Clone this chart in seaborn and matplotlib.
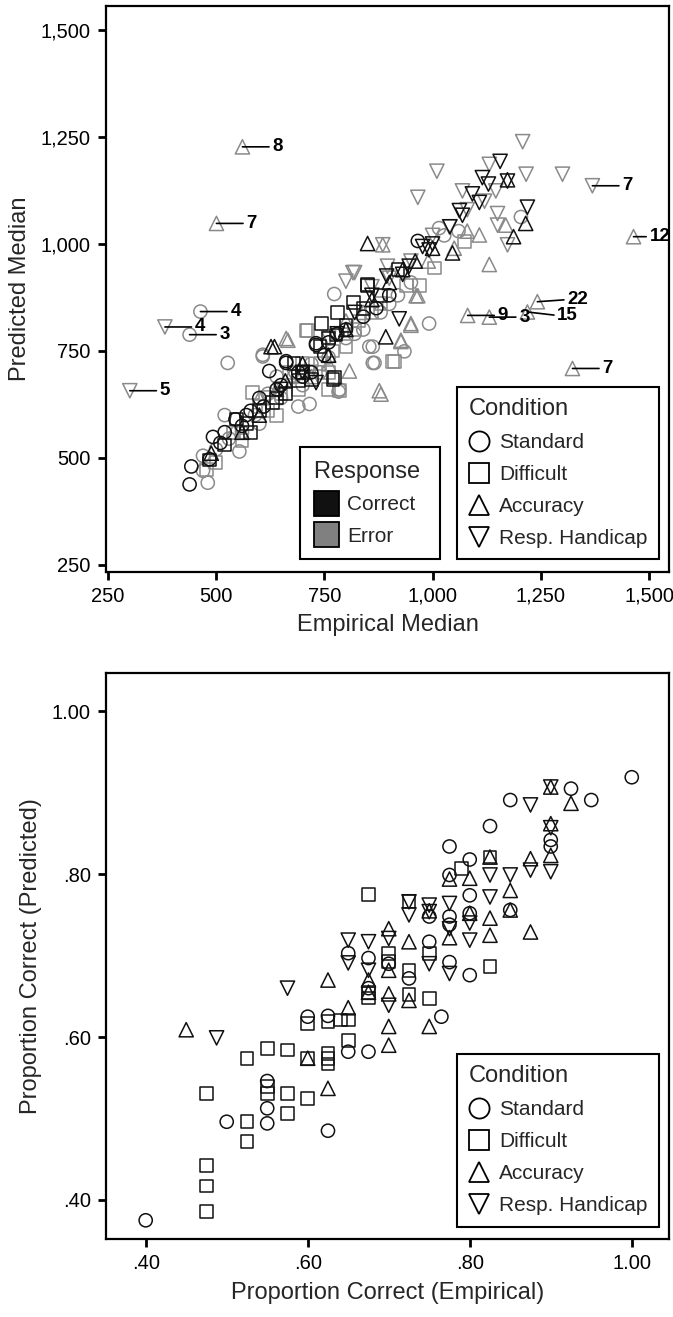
import matplotlib
matplotlib.use("Agg")
import matplotlib.pyplot as plt
from matplotlib.lines import Line2D
import seaborn as sns

sns.set_style("ticks")
plt.rcParams['font.family'] = ['Liberation Sans', 'DejaVu Sans']

# ---------------- Top panel data: median RT (empirical vs predicted) ----------------
std_cor_x = [439, 443, 485, 493, 520, 545, 570, 600, 623, 640, 662, 662, 690, 700, 731, 731, 750, 780, 800, 840, 870, 900, 966, 720, 610, 560, 510, 580, 650, 760]
std_cor_y = [438, 480, 497, 549, 560, 590, 600, 640, 703, 660, 722, 726, 700, 690, 764, 768, 740, 790, 800, 830, 850, 880, 1007, 700, 620, 575, 535, 610, 670, 770]
std_err_x = [464, 439, 470, 481, 527, 554, 608, 608, 716, 773, 783, 785, 854, 862, 862, 866, 935, 992, 1015, 1027, 1204, 500, 530, 560, 590, 620, 650, 680, 700, 720, 740, 760, 800, 820, 840, 880, 900, 920, 950, 1060, 640, 600, 690, 470, 520]
std_err_y = [842, 788, 470, 442, 722, 515, 737, 741, 626, 883, 655, 660, 760, 760, 722, 722, 749, 814, 1037, 1020, 1063, 520, 545, 560, 600, 650, 640, 690, 670, 720, 700, 735, 780, 790, 800, 840, 860, 880, 910, 1030, 690, 580, 620, 505, 600]
dif_cor_x = [485, 520, 547, 570, 600, 630, 660, 690, 720, 743, 770, 773, 777, 781, 817, 850, 850, 700, 740, 760, 800, 640, 580, 680, 840, 880, 920]
dif_cor_y = [495, 530, 591, 580, 610, 630, 650, 680, 683, 814, 683, 687, 787, 840, 864, 902, 905, 700, 760, 780, 810, 640, 560, 720, 850, 880, 940]
dif_err_x = [478, 500, 540, 585, 600, 620, 650, 670, 700, 708, 712, 760, 785, 800, 830, 860, 880, 908, 912, 939, 969, 1004, 1073, 640, 690, 740, 770, 560, 820, 760]
dif_err_y = [473, 490, 560, 653, 620, 610, 650, 700, 720, 798, 798, 700, 657, 760, 820, 840, 860, 726, 726, 902, 902, 944, 1005, 600, 660, 720, 750, 540, 800, 660]
acc_cor_x = [489, 627, 635, 850, 892, 931, 1046, 1187, 1215, 700, 760, 800, 560, 600, 660, 860, 900, 960, 1000, 1173]
acc_cor_y = [511, 760, 760, 1001, 783, 940, 979, 1017, 1048, 720, 740, 800, 560, 600, 680, 870, 910, 960, 990, 1150]
acc_err_x = [561, 501, 1323, 1464, 1242, 1219, 1081, 1131, 662, 666, 808, 877, 881, 927, 927, 950, 950, 962, 966, 1108, 1131, 1169, 885, 540, 600, 640, 700, 720, 760, 800, 840, 990, 1050, 1080]
acc_err_y = [1227, 1048, 709, 1017, 865, 841, 833, 829, 779, 775, 703, 657, 649, 772, 775, 810, 814, 879, 879, 1021, 952, 1044, 998, 560, 640, 660, 700, 690, 720, 820, 840, 960, 990, 1030]
rh_cor_x = [731, 894, 923, 931, 946, 977, 992, 1062, 1069, 1092, 1108, 1115, 1129, 1156, 1173, 1219, 820, 860, 780, 700, 650, 1000, 1040]
rh_cor_y = [676, 925, 825, 929, 948, 994, 986, 1078, 1067, 1117, 1097, 1155, 1140, 1193, 1147, 1086, 840, 880, 790, 700, 660, 1000, 1040]
rh_err_x = [382, 301, 1369, 1208, 1010, 1131, 1216, 1300, 1146, 966, 1069, 1150, 1150, 1173, 1039, 820, 816, 800, 896, 885, 1000, 950, 760, 720, 680, 620, 860, 900, 1080, 1120]
rh_err_y = [806, 657, 1136, 1239, 1170, 1186, 1163, 1163, 1124, 1109, 1124, 1071, 1044, 998, 1040, 933, 933, 913, 948, 998, 1020, 960, 780, 700, 690, 640, 900, 920, 1080, 1100]

# labelled outliers (empirical, predicted, label)
out_x = [561, 501, 464, 382, 439, 301, 1369, 1464, 1242, 1219, 1081, 1131, 1323]
out_y = [1227, 1048, 842, 806, 788, 657, 1136, 1017, 865, 841, 833, 829, 709]
out_lab = ["8", "7", "4", "4", "3", "5", "7", "12", "22", "15", "9", "3", "7"]

# ---------------- Bottom panel data: proportion correct ----------------
pc_std_x = [0.40, 0.50, 0.55, 0.55, 0.55, 0.60, 0.625, 0.625, 0.65, 0.675, 0.65, 0.675, 0.675, 0.70, 0.725, 0.75, 0.75, 0.765, 0.775, 0.775, 0.775, 0.775, 0.775, 0.80, 0.80, 0.80, 0.80, 0.825, 0.85, 0.85, 0.90, 0.90, 0.925, 0.95, 1.00]
pc_std_y = [0.375, 0.496, 0.546, 0.5125, 0.494, 0.625, 0.626, 0.485, 0.582, 0.582, 0.703, 0.697, 0.66, 0.69, 0.672, 0.748, 0.717, 0.625, 0.834, 0.799, 0.748, 0.738, 0.692, 0.818, 0.774, 0.752, 0.676, 0.859, 0.891, 0.756, 0.842, 0.834, 0.905, 0.891, 0.919]
pc_dif_x = [0.475, 0.475, 0.475, 0.475, 0.525, 0.525, 0.525, 0.55, 0.55, 0.55, 0.575, 0.575, 0.575, 0.60, 0.60, 0.60, 0.625, 0.625, 0.625, 0.625, 0.64, 0.65, 0.65, 0.675, 0.675, 0.675, 0.70, 0.70, 0.725, 0.725, 0.725, 0.75, 0.75, 0.79, 0.825, 0.825]
pc_dif_y = [0.531, 0.442, 0.417, 0.386, 0.574, 0.496, 0.472, 0.586, 0.539, 0.531, 0.584, 0.531, 0.506, 0.617, 0.574, 0.525, 0.619, 0.58, 0.574, 0.567, 0.621, 0.621, 0.596, 0.775, 0.655, 0.648, 0.703, 0.693, 0.766, 0.682, 0.652, 0.703, 0.647, 0.807, 0.821, 0.687]
pc_acc_x = [0.45, 0.60, 0.625, 0.625, 0.65, 0.675, 0.675, 0.70, 0.70, 0.70, 0.70, 0.70, 0.725, 0.725, 0.75, 0.75, 0.775, 0.775, 0.80, 0.80, 0.825, 0.825, 0.825, 0.85, 0.85, 0.875, 0.875, 0.90, 0.90, 0.90, 0.925]
pc_acc_y = [0.609, 0.574, 0.537, 0.67, 0.636, 0.67, 0.655, 0.733, 0.682, 0.653, 0.613, 0.59, 0.717, 0.645, 0.613, 0.755, 0.794, 0.722, 0.795, 0.752, 0.821, 0.746, 0.725, 0.78, 0.756, 0.819, 0.729, 0.907, 0.862, 0.823, 0.887]
pc_rh_x = [0.4875, 0.575, 0.65, 0.65, 0.675, 0.675, 0.70, 0.70, 0.725, 0.725, 0.75, 0.75, 0.75, 0.775, 0.775, 0.775, 0.80, 0.80, 0.825, 0.825, 0.85, 0.875, 0.875, 0.90, 0.90, 0.90]
pc_rh_y = [0.599, 0.66, 0.719, 0.691, 0.717, 0.682, 0.721, 0.639, 0.766, 0.75, 0.762, 0.754, 0.69, 0.764, 0.733, 0.678, 0.74, 0.719, 0.799, 0.772, 0.799, 0.885, 0.805, 0.907, 0.857, 0.803]

cond_names = ["Standard", "Difficult", "Accuracy", "Resp. Handicap"]
resp_names = ["Correct", "Error"]
rt_ticks = [250, 500, 750, 1000, 1250, 1500]
rt_ticklabels = ["250", "500", "750", "1,000", "1,250", "1,500"]
pc_ticks = [0.40, 0.60, 0.80, 1.00]
pc_ticklabels = [".40", ".60", ".80", "1.00"]

# ---------------- styling ----------------
MARK = {"Standard": "o", "Difficult": "s", "Accuracy": "^", "Resp. Handicap": "v"}
SIZE = {"Standard": 90, "Difficult": 85, "Accuracy": 105, "Resp. Handicap": 105}
BLACK = "#111111"
GRAY = "#8a8a8a"
LW = 1.1

fig = plt.figure(figsize=(6.73, 13.17), dpi=100)
ax1 = fig.add_axes([0.1575, 0.5659, 0.8366, 0.4295])
ax2 = fig.add_axes([0.1575, 0.0592, 0.8366, 0.4298])


def pts(ax, xs, ys, cond, color):
    sns.scatterplot(x=xs, y=ys, ax=ax, marker=MARK[cond], s=SIZE[cond],
                    facecolors="none", edgecolor=color, linewidth=LW,
                    legend=False, zorder=3)


# top panel: error (gray) first, correct (black) on top
pts(ax1, std_err_x, std_err_y, "Standard", GRAY)
pts(ax1, dif_err_x, dif_err_y, "Difficult", GRAY)
pts(ax1, acc_err_x, acc_err_y, "Accuracy", GRAY)
pts(ax1, rh_err_x, rh_err_y, "Resp. Handicap", GRAY)
pts(ax1, std_cor_x, std_cor_y, "Standard", BLACK)
pts(ax1, dif_cor_x, dif_cor_y, "Difficult", BLACK)
pts(ax1, acc_cor_x, acc_cor_y, "Accuracy", BLACK)
pts(ax1, rh_cor_x, rh_cor_y, "Resp. Handicap", BLACK)

for x, y, lab in zip(out_x, out_y, out_lab):
    off = 11.5 if lab == "12" else 21.5
    dy = -2.5 if lab == "15" else (1.5 if lab == "22" else 0)
    ax1.annotate(lab, xy=(x, y), xytext=(off, dy), textcoords="offset points",
                 ha="left", va="center", fontsize=13.5, fontweight="bold",
                 color="black", zorder=5,
                 arrowprops=dict(arrowstyle="-", color="black", lw=1.2,
                                 shrinkA=0, shrinkB=0, relpos=(0, 0.5)))

# bottom panel
pts(ax2, pc_std_x, pc_std_y, "Standard", BLACK)
pts(ax2, pc_dif_x, pc_dif_y, "Difficult", BLACK)
pts(ax2, pc_acc_x, pc_acc_y, "Accuracy", BLACK)
pts(ax2, pc_rh_x, pc_rh_y, "Resp. Handicap", BLACK)

# axes formatting
ax1.set_xlim(246, 1546)
ax1.set_ylim(234, 1556)
ax1.set_xticks(rt_ticks)
ax1.set_xticklabels(rt_ticklabels)
ax1.set_yticks(rt_ticks)
ax1.set_yticklabels(rt_ticklabels)
ax1.set_xlabel("Empirical Median", fontsize=17, labelpad=6)
ax1.set_ylabel("Predicted Median", fontsize=17, labelpad=7)

ax2.set_xlim(0.351, 1.046)
ax2.set_ylim(0.352, 1.047)
ax2.set_xticks(pc_ticks)
ax2.set_xticklabels(pc_ticklabels)
ax2.set_yticks(pc_ticks)
ax2.set_yticklabels(pc_ticklabels)
ax2.set_xlabel("Proportion Correct (Empirical)", fontsize=17, labelpad=6)
ax2.set_ylabel("Proportion Correct (Predicted)", fontsize=17, labelpad=7)

for ax in (ax1, ax2):
    for sp in ax.spines.values():
        sp.set_visible(True)
        sp.set_linewidth(1.6)
        sp.set_color("black")
    ax.tick_params(axis="both", direction="out", length=6, width=2.0,
                   labelsize=14.5, pad=5, color="black", labelcolor="black")


def cond_legend(ax):
    handles = [Line2D([], [], linestyle="none", marker=MARK[c], markersize=14.5,
                      markerfacecolor="none", markeredgecolor="black",
                      markeredgewidth=1.3) for c in cond_names]
    leg = ax.legend(handles, cond_names, title="Condition", loc="lower right",
                    bbox_to_anchor=(0.982, 0.022), borderaxespad=0,
                    fontsize=15, title_fontsize=17, frameon=True,
                    fancybox=False, edgecolor="black", framealpha=1,
                    handlelength=1.0, handletextpad=0.45, labelspacing=0.62,
                    borderpad=0.55, alignment="left")
    leg.get_frame().set_linewidth(1.5)
    return leg


leg_c1 = cond_legend(ax1)
ax1.add_artist(leg_c1)
resp_handles = [Line2D([], [], linestyle="none", marker="s", markersize=18,
                       markerfacecolor=col, markeredgecolor="black",
                       markeredgewidth=1.3) for col in (BLACK, "#808080")]
leg_r = ax1.legend(resp_handles, ["Correct ", "Error"], title="Response ",
                   loc="lower left",
                   bbox_to_anchor=(0.345, 0.022), borderaxespad=0,
                   fontsize=15, title_fontsize=17, frameon=True,
                   fancybox=False, edgecolor="black", framealpha=1,
                   handlelength=1.15, handletextpad=0.45, labelspacing=0.6,
                   borderpad=0.65, alignment="left")
leg_r.get_frame().set_linewidth(1.5)

cond_legend(ax2)

fig.savefig("out.png", dpi=100)
